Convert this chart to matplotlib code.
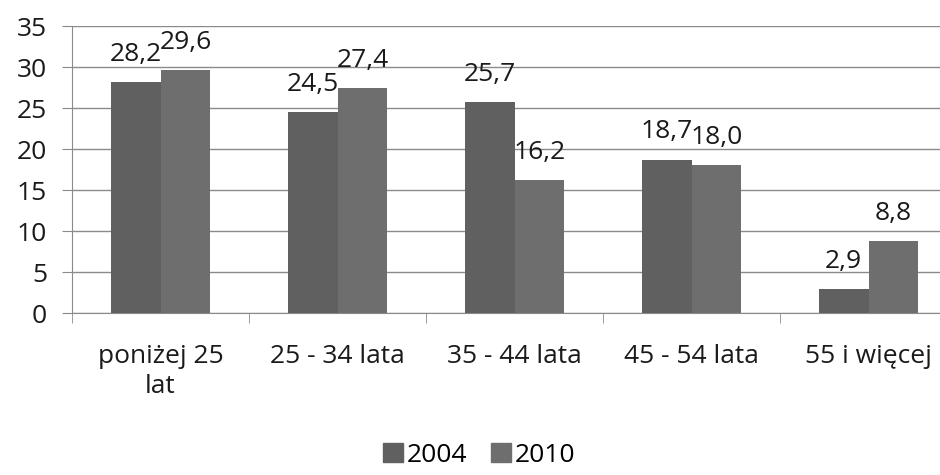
import numpy as np
import matplotlib
matplotlib.use("Agg")
import matplotlib.pyplot as plt
from matplotlib.patches import Patch

categories = ["poniżej 25\nlat", "25 - 34 lata", "35 - 44 lata", "45 - 54 lata", "55 i więcej"]
values_2004 = [28.2, 24.5, 25.7, 18.7, 2.9]
values_2010 = [29.6, 27.4, 16.2, 18.0, 8.8]
series_names = ["2004", "2010"]

plt.rcParams['font.family'] = ['Open Sans', 'DejaVu Sans']
COL_2004 = '#606060'
COL_2010 = '#6e6e6e'
GRID = '#8a8a8a'
TXT = '#1a1a1a'
FS = 19

fig = plt.figure(figsize=(9.4, 4.75), dpi=100)
ax = fig.add_axes([0.0766, 0.341, 0.9415, 0.604])

x = np.arange(len(categories))
w = 0.282
b1 = ax.bar(x - w / 2, values_2004, w, color=COL_2004, zorder=3)
b2 = ax.bar(x + w / 2, values_2010, w, color=COL_2010, zorder=3)

# data labels above each bar, decimal comma
for bars, vals in ((b1, values_2004), (b2, values_2010)):
    for rect, v in zip(bars, vals):
        ax.annotate(f"{v:.1f}".replace('.', ','),
                    xy=(rect.get_x() + rect.get_width() / 2, rect.get_height()),
                    xytext=(0, 11), textcoords='offset points',
                    ha='center', va='bottom', fontsize=FS, color=TXT)

ax.set_xlim(-0.5, len(categories) - 0.5)
ax.set_ylim(0, 35)
ax.set_yticks(np.arange(0, 36, 5))
ax.yaxis.grid(True, color=GRID, linewidth=1)
ax.set_axisbelow(True)

ax.set_xticks(x)
ax.set_xticklabels(categories, fontsize=FS, color=TXT, linespacing=1.3)
ax.tick_params(axis='x', length=0, pad=22)
ax.set_xticks(np.arange(-0.5, len(categories), 1), minor=True)
ax.tick_params(axis='x', which='minor', length=7, color=GRID, direction='out')
ax.tick_params(axis='y', length=7, color=GRID, labelsize=FS, labelcolor=TXT, pad=11)

for s in ('top', 'right'):
    ax.spines[s].set_visible(False)
for s in ('left', 'bottom'):
    ax.spines[s].set_color(GRID)

handles = [Patch(color=COL_2004), Patch(color=COL_2010)]
fig.legend(handles, series_names, loc='lower center', bbox_to_anchor=(0.51, -0.035),
           ncol=2, frameon=False, fontsize=FS, handlelength=0.75, handleheight=0.75,
           handletextpad=0.15, columnspacing=0.9)

fig.savefig("out.png", dpi=100)
